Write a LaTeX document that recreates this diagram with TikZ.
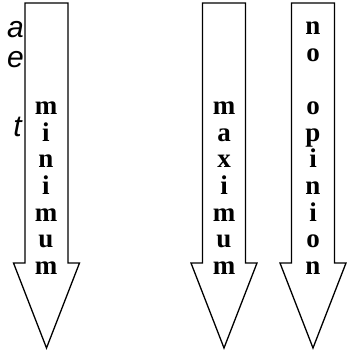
\documentclass[tikz,border=0pt]{standalone}
\usepackage{fontspec}
\setmainfont{Liberation Serif}
\newfontfamily\sidefont{Liberation Sans}
\tikzset{
	outline/.style = {draw, line width=1.3pt, line join=miter},
	letter/.style = {anchor=base, inner sep=0pt, font=\fontsize{27}{28}\selectfont\bfseries},
	sidetext/.style = {anchor=base east, inner sep=0pt, font=\fontsize{30}{32}\selectfont\sidefont\itshape}
}
\begin{document}
\begin{tikzpicture}[x=1pt, y=1pt]
	\useasboundingbox (0,0) rectangle (350,351);

	% the three arrows: centre x
	\foreach \cx in {46.5, 224, 313}{
		\draw[outline] (\cx-21.5,348) -- (\cx+21.5,348) -- (\cx+21.5,88) -- (\cx+33,88)
			-- (\cx,3) -- (\cx-33,88) -- (\cx-21.5,88) -- cycle;
	}

	% text on the left, cut at the border
	\node[sidetext] (sa) at (24,313) {a};
	\node[sidetext] (se) at (24,283) {e};
	\node[sidetext] (st) at (22,214) {t};

	% letters in the arrows
	\foreach \ch [count=\k] in {m,i,n,i,m,u,m}
		\node[letter] (min\k) at (46,{316-26.6*(\k+2)}) {\ch};
	\foreach \ch [count=\k] in {m,a,x,i,m,u,m}
		\node[letter] (max\k) at (224,{316-26.6*(\k+2)}) {\ch};
	\foreach \ch [count=\k] in {n,o,{},o,p,i,n,i,o,n}
		\node[letter] (nop\k) at (313,{316-26.6*(\k-1)}) {\ch};
\end{tikzpicture}
\end{document}
